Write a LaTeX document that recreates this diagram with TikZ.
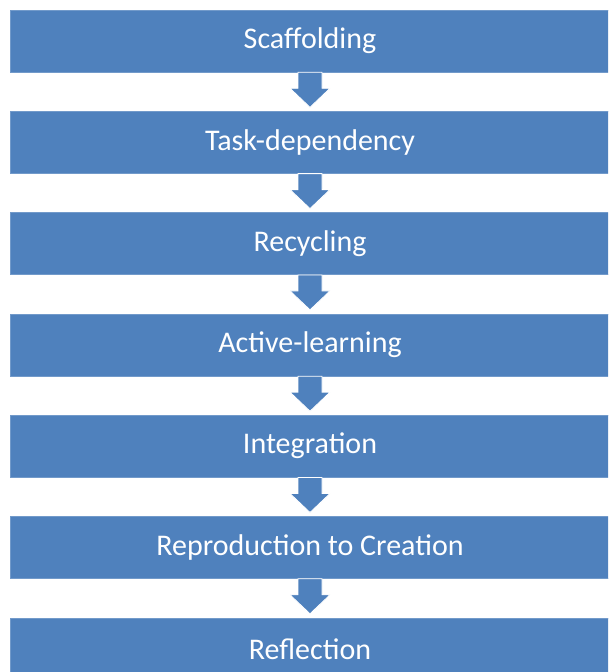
\documentclass[tikz,border=0pt]{standalone}
\usepackage{fontspec}
\setmainfont{Carlito}
\usetikzlibrary{calc}
\definecolor{boxblue}{HTML}{4F81BD}
\tikzset{
  stagebox/.style={fill=boxblue, draw=boxblue!80!white, line width=0.6pt,
    minimum width=600pt, minimum height=62pt, inner sep=0pt,
    text=white, font=\fontsize{30}{34}\selectfont},
  downarrow/.style={fill=boxblue, draw=white, line width=0.8pt, line join=miter}
}
\newcommand{\flowarrow}[1]{%
  \draw[downarrow] ($(#1.south)+(-12,0)$) -- ++(24,0) -- ++(0,-16) -- ++(8,0)
    -- ($(#1.south)+(0,-35)$) -- ($(#1.south)+(-20,-16)$) -- ++(8,0) -- cycle;}
\begin{document}
\begin{tikzpicture}[x=1pt,y=1pt]
\useasboundingbox (0,0) rectangle (608,-672);
\clip (0,0) rectangle (608,-672);
\node[stagebox] (b1) at (310,-41) {Scaffolding};
\node[stagebox] (b2) at (310,-142.3) {Task-dependency};
\node[stagebox] (b3) at (310,-243.6) {Recycling};
\node[stagebox] (b4) at (310,-344.9) {Active-learning};
\node[stagebox] (b5) at (310,-446.2) {Integration};
\node[stagebox] (b6) at (310,-547.5) {Reproduction to Creation};
\node[stagebox] (b7) at (310,-648.8) {Reflection};
\flowarrow{b1}
\flowarrow{b2}
\flowarrow{b3}
\flowarrow{b4}
\flowarrow{b5}
\flowarrow{b6}
\end{tikzpicture}
\end{document}
